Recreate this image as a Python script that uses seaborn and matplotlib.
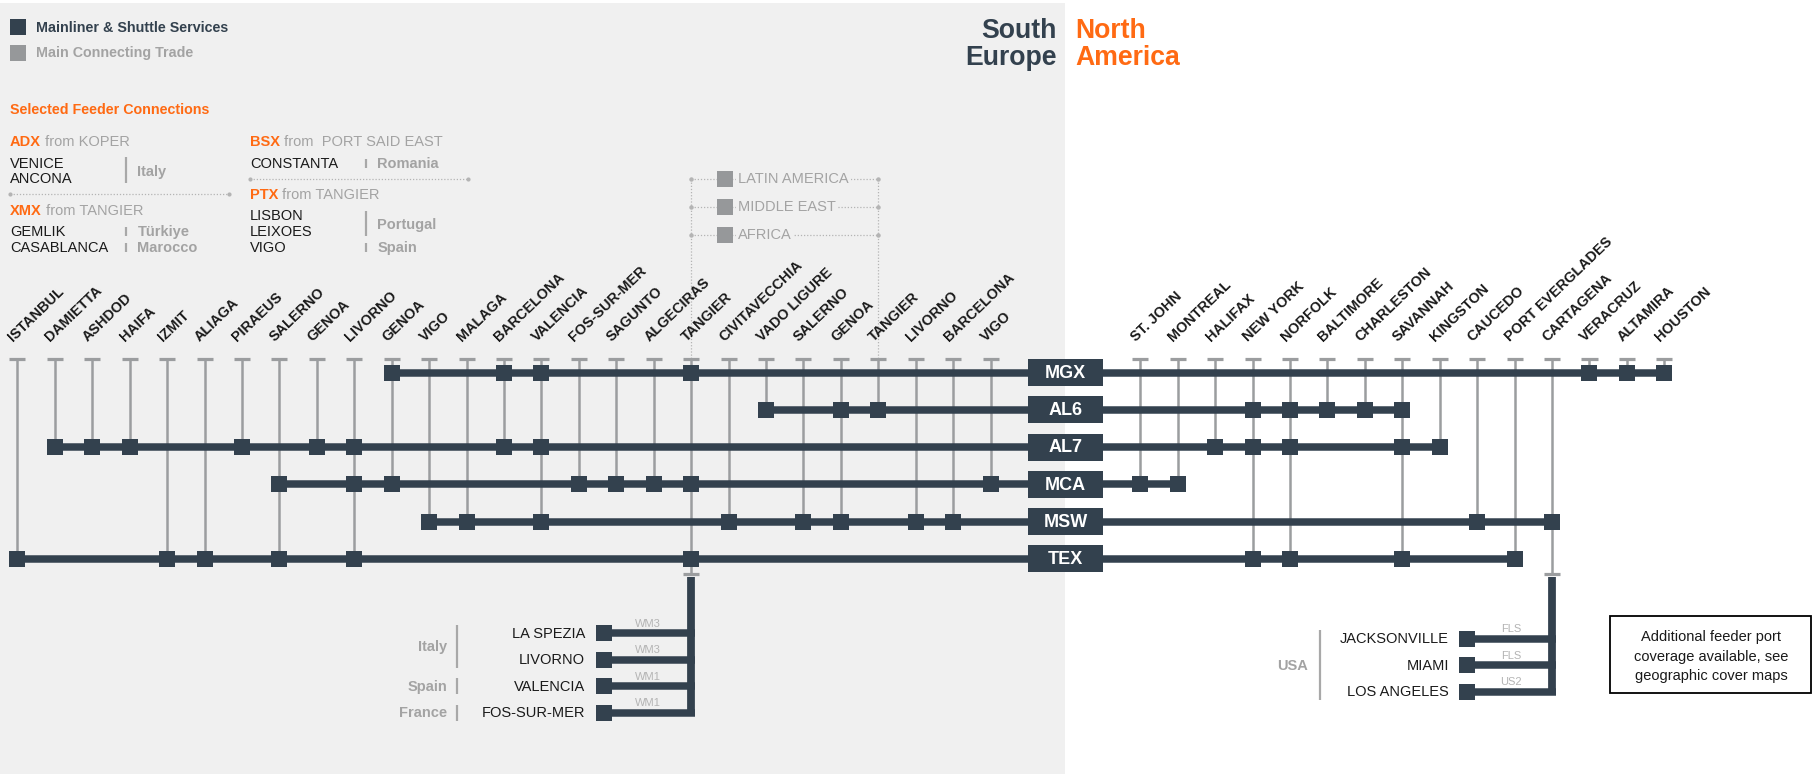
import numpy as np
import pandas as pd
import matplotlib
matplotlib.use("Agg")
import matplotlib.pyplot as plt
from matplotlib.patches import Rectangle
import seaborn as sns

# ---------------- data ----------------
europe_ports = ["ISTANBUL", "DAMIETTA", "ASHDOD", "HAIFA", "IZMIT", "ALIAGA", "PIRAEUS",
                "SALERNO", "GENOA", "LIVORNO", "GENOA", "VIGO", "MALAGA", "BARCELONA",
                "VALENCIA", "FOS-SUR-MER", "SAGUNTO", "ALGECIRAS", "TANGIER", "CIVITAVECCHIA",
                "VADO LIGURE", "SALERNO", "GENOA", "TANGIER", "LIVORNO", "BARCELONA", "VIGO"]
america_ports = ["ST. JOHN", "MONTREAL", "HALIFAX", "NEW YORK", "NORFOLK", "BALTIMORE",
                 "CHARLESTON", "SAVANNAH", "KINGSTON", "CAUCEDO", "PORT EVERGLADES",
                 "CARTAGENA", "VERACRUZ", "ALTAMIRA", "HOUSTON"]
services = ["MGX", "AL6", "AL7", "MCA", "MSW", "TEX"]
# stops: index into europe_ports / america_ports
europe_stops = {
    "MGX": [10, 13, 14, 18],
    "AL6": [20, 22, 23],
    "AL7": [1, 2, 3, 6, 8, 9, 13, 14],
    "MCA": [7, 9, 10, 15, 16, 17, 18, 26],
    "MSW": [11, 12, 14, 19, 21, 22, 24, 25],
    "TEX": [0, 4, 5, 7, 9, 18],
}
america_stops = {
    "MGX": [12, 13, 14],
    "AL6": [3, 4, 5, 6, 7],
    "AL7": [2, 3, 4, 7, 8],
    "MCA": [0, 1],
    "MSW": [9, 11],
    "TEX": [3, 4, 7, 10],
}
regions = ["LATIN AMERICA", "MIDDLE EAST", "AFRICA"]
med_feeders = ["LA SPEZIA", "LIVORNO", "VALENCIA", "FOS-SUR-MER"]
med_feeder_services = ["WM3", "WM3", "WM1", "WM1"]
med_countries = [("Italy", 0, 1), ("Spain", 2, 2), ("France", 3, 3)]
na_feeders = ["JACKSONVILLE", "MIAMI", "LOS ANGELES"]
na_feeder_services = ["FLS", "FLS", "US2"]
na_countries = [("USA", 0, 2)]
med_hub = ("europe", 18)     # TANGIER
na_hub = ("america", 11)     # CARTAGENA

# ---------------- style ----------------
DARK = "#33414e"
GREY = "#9b9d9f"
LGREY = "#b4b4b4"
ORANGE = "#ff6a13"
BG = "#f0f0f0"
TXT = "#1a1a1a"
CGREY = "#a3a3a3"

sns.set_theme(style="white")
plt.rcParams["font.family"] = ["Liberation Sans", "DejaVu Sans"]

W, H = 1814, 774
fig = plt.figure(figsize=(W / 100, H / 100), dpi=100)
fig.patch.set_facecolor("white")

# background axes in pixel units
axb = fig.add_axes([0, 0, 1, 1], zorder=0)
axb.set_xlim(0, W); axb.set_ylim(H, 0); axb.axis("off")
axb.add_patch(Rectangle((0, 3), 1065, H, facecolor=BG, edgecolor="none"))

# network axes: x = column slot, y = row slot
X0, DX = 17.4, 37.43
Y0, DY = 372.5, 37.26
ax = fig.add_axes([0, 0, 1, 1], zorder=1)
ax.set_xlim((0 - X0) / DX, (W - X0) / DX)
ax.set_ylim((H - Y0) / DY, (0 - Y0) / DY)
ax.axis("off")
ax.patch.set_alpha(0)

def colx(px):
    return (px - X0) / DX

def rowy(py):
    return (py - Y0) / DY

AM_OFF = 30
BOX_COL = 28
CAP_ROW = rowy(358.5)
BOT_CAP_ROW = rowy(573.5)
LW_MAIN = 5.4
LW_GREY = 1.8
SQ = 11.5 ** 2

def col_of(side, i):
    return i if side == "europe" else i + AM_OFF

# stops table
recs = []
for r, s in enumerate(services):
    for i in europe_stops[s]:
        recs.append((s, col_of("europe", i), r))
    for i in america_stops[s]:
        recs.append((s, col_of("america", i), r))
stops = pd.DataFrame(recs, columns=["service", "col", "row"])

# grey connectors (port column -> lowest stop)
all_cols = [col_of("europe", i) for i in range(len(europe_ports))] + \
           [col_of("america", i) for i in range(len(america_ports))]
hub_cols = [col_of(*med_hub), col_of(*na_hub)]
for c in all_cols:
    rows = stops.loc[stops["col"] == c, "row"]
    bottom = rows.max() if len(rows) else CAP_ROW
    if c in hub_cols:
        bottom = BOT_CAP_ROW
    ax.vlines(c, CAP_ROW, bottom, color=GREY, lw=LW_GREY, zorder=2)
    ax.hlines(CAP_ROW, c - 0.215, c + 0.215, color=GREY, lw=2.3, zorder=2)
for c in hub_cols:
    ax.hlines(BOT_CAP_ROW, c - 0.215, c + 0.215, color=GREY, lw=2.3, zorder=2)

# service lines
for r, s in enumerate(services):
    cs = stops.loc[stops["service"] == s, "col"]
    ax.hlines(r, cs.min(), cs.max(), color=DARK, lw=LW_MAIN, zorder=3)

# stop squares
sns.scatterplot(data=stops, x="col", y="row", marker="s", s=SQ, color=DARK,
                linewidth=0, ax=ax, legend=False, zorder=4)
ax.set_xlim((0 - X0) / DX, (W - X0) / DX)
ax.set_ylim((H - Y0) / DY, (0 - Y0) / DY)
ax.axis("off")

# service name boxes
bw, bh = 75 / DX, 27 / DY
for r, s in enumerate(services):
    ax.add_patch(Rectangle((BOX_COL - bw / 2, r - bh / 2), bw, bh, facecolor=DARK,
                           edgecolor="none", zorder=5))
    ax.text(BOX_COL, r + 0.02, s, color="white", fontsize=13, fontweight="bold",
            ha="center", va="center", zorder=6)

# port labels
lab_row = rowy(342)
for i, n in enumerate(europe_ports):
    ax.text(col_of("europe", i) - 0.12, lab_row, n, rotation=44, rotation_mode="anchor",
            ha="left", va="baseline", fontsize=10.4, fontweight="bold", color=TXT)
for i, n in enumerate(america_ports):
    ax.text(col_of("america", i) - 0.12, lab_row, n, rotation=44, rotation_mode="anchor",
            ha="left", va="baseline", fontsize=10.4, fontweight="bold", color=TXT)

# region connector block (between the two TANGIER columns)
rc0, rc1 = col_of("europe", 18), col_of("europe", 23)
reg_rows = [rowy(179), rowy(207), rowy(235)]
for c in (rc0, rc1):
    ax.vlines(c, reg_rows[0], CAP_ROW, color=LGREY, lw=0.9, linestyles=(0, (1, 1.5)), zorder=1)
for rr, name in zip(reg_rows, regions):
    ax.hlines(rr, rc0, rc1, color=LGREY, lw=0.9, linestyles=(0, (1, 1.5)), zorder=1)
    ax.plot([rc0, rc1], [rr, rr], ls="none", marker="o", ms=2.2, color=LGREY, zorder=1)
    ax.scatter([colx(725.5)], [rr], marker="s", s=SQ, color="#96989a", linewidth=0, zorder=4)
    t = ax.text(colx(738), rr, name, fontsize=10.5, color=CGREY, ha="left", va="center",
                zorder=3, bbox=dict(facecolor=BG, edgecolor="none", pad=1.5))

# feeder blocks
def feeder_block(hub_col, names, svc, countries, row0, sq_px, lab_px, svc_px, ctry_px, bar_px):
    n = len(names)
    step = 0.713
    frows = [row0 + k * step for k in range(n)]
    ax.vlines(hub_col, rowy(577), frows[-1] + 0.1, color=DARK, lw=5.6, zorder=3)
    for k, (nm, sv) in enumerate(zip(names, svc)):
        fr = frows[k]
        ax.hlines(fr, colx(sq_px), hub_col + 0.1, color=DARK, lw=LW_MAIN, zorder=3)
        ax.scatter([colx(sq_px)], [fr], marker="s", s=SQ, color=DARK, linewidth=0, zorder=4)
        ax.text(colx(lab_px), fr + 0.02, nm, ha="right", va="center", fontsize=10.5, color=TXT)
        ax.text(colx(svc_px), fr - 0.17, sv, ha="center", va="baseline", fontsize=8,
                color=LGREY)
    for cname, a, b in countries:
        ya, yb = frows[a] - 0.22, frows[b] + 0.22
        ax.vlines(colx(bar_px), ya, yb, color="#a8a8a8", lw=1.6)
        ax.text(colx(ctry_px), (frows[a] + frows[b]) / 2 + 0.02, cname, ha="right",
                va="center", fontsize=10.5, fontweight="bold", color=CGREY)

feeder_block(col_of(*med_hub), med_feeders, med_feeder_services, med_countries,
             rowy(633), 604, 585, 648, 447, 457)
feeder_block(col_of(*na_hub), na_feeders, na_feeder_services, na_countries,
             rowy(638.5), 1467, 1449, 1511, 1308, 1320)

# ---------------- text overlay (pixel units) ----------------
axt = fig.add_axes([0, 0, 1, 1], zorder=2)
axt.set_xlim(0, W); axt.set_ylim(H, 0); axt.axis("off"); axt.patch.set_alpha(0)

axt.add_patch(Rectangle((10, 19), 16, 16, facecolor=DARK, edgecolor="none"))
axt.text(36.5, 31.5, "Mainliner & Shuttle Services", fontsize=10.3, fontweight="bold",
         color=DARK, va="baseline")
axt.add_patch(Rectangle((10, 45), 16, 16, facecolor="#96989a", edgecolor="none"))
axt.text(36.5, 57.5, "Main Connecting Trade", fontsize=10.3, fontweight="bold",
         color=CGREY, va="baseline")
axt.text(10, 114, "Selected Feeder Connections", fontsize=10.3, fontweight="bold",
         color=ORANGE, va="baseline")

def head(x, y, code, rest):
    t = axt.text(x, y, code, fontsize=10.5, fontweight="bold", color=ORANGE, va="baseline")
    axt.annotate(rest, xy=(1, 0), xycoords=t, va="bottom", ha="left", fontsize=10.5,
                 color=CGREY)

def reg(x, y, s, bold=False, color=TXT):
    axt.text(x, y, s, fontsize=10.5, color=color, va="baseline",
             fontweight="bold" if bold else "normal")

head(10, 146, "ADX", " from KOPER")
reg(10, 167.5, "VENICE"); reg(10, 183, "ANCONA")
axt.vlines(126, 157, 183, color="#a8a8a8", lw=1.6)
reg(137.5, 176, "Italy", True, CGREY)
axt.hlines(194, 10, 229, color=LGREY, lw=0.9, linestyles=(0, (1, 1.5)))
axt.plot([10, 229], [194, 194], ls="none", marker="o", ms=2, color=LGREY)
head(10, 215, "XMX", " from TANGIER")
reg(10, 236, "GEMLIK"); reg(10, 252, "CASABLANCA")
axt.vlines(126, 227, 236, color="#a8a8a8", lw=1.6)
axt.vlines(126, 243, 252, color="#a8a8a8", lw=1.6)
reg(137.5, 236, "Türkiye", True, CGREY); reg(137.5, 252, "Marocco", True, CGREY)

head(250, 146, "BSX", " from  PORT SAID EAST")
reg(250, 167.5, "CONSTANTA")
axt.vlines(366, 158.5, 167.5, color="#a8a8a8", lw=1.6)
reg(377.5, 167.5, "Romania", True, CGREY)
axt.hlines(178.5, 250, 468, color=LGREY, lw=0.9, linestyles=(0, (1, 1.5)))
axt.plot([250, 468], [178.5, 178.5], ls="none", marker="o", ms=2, color=LGREY)
head(250, 199, "PTX", " from TANGIER")
reg(250, 220, "LISBON"); reg(250, 236, "LEIXOES"); reg(250, 252, "VIGO")
axt.vlines(366, 210.5, 236, color="#a8a8a8", lw=1.6)
axt.vlines(366, 243, 252, color="#a8a8a8", lw=1.6)
reg(377.5, 228.5, "Portugal", True, CGREY); reg(377.5, 252, "Spain", True, CGREY)

# region titles
axt.text(1057, 37.5, "South", fontsize=19.2, fontweight="bold", color=DARK, ha="right", va="baseline")
axt.text(1057, 65, "Europe", fontsize=19.2, fontweight="bold", color=DARK, ha="right", va="baseline")
axt.text(1075, 37.5, "North", fontsize=19.2, fontweight="bold", color=ORANGE, ha="left", va="baseline")
axt.text(1075, 65, "America", fontsize=19.2, fontweight="bold", color=ORANGE, ha="left", va="baseline")

# note box
axt.add_patch(Rectangle((1610, 616), 201, 77, facecolor="white", edgecolor="black", lw=1.3))
for k, line in enumerate(["Additional feeder port", "coverage available, see",
                          "geographic cover maps"]):
    axt.text(1711, 637 + k * 19.5, line, fontsize=10.5, color=TXT, ha="center", va="center")

fig.savefig("out.png", dpi=100, facecolor=fig.get_facecolor())
